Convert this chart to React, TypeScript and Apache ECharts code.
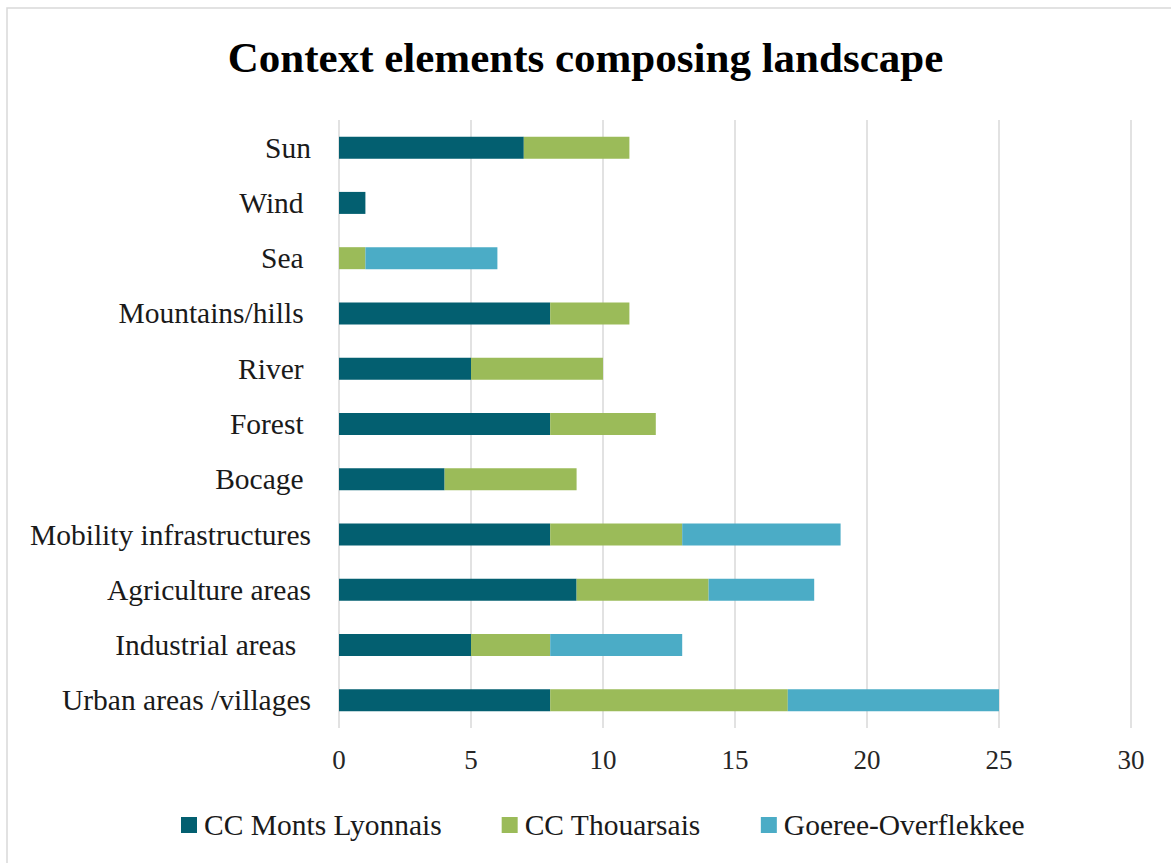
import React, { useEffect, useRef } from "react";
import * as echarts from "echarts";

const categories = [
  "Sun",
  "Wind ",
  "Sea ",
  "Mountains/hills ",
  "River ",
  "Forest ",
  "Bocage ",
  "Mobility infrastructures",
  "Agriculture areas",
  "Industrial areas  ",
  "Urban areas /villages",
];
const montsLyonnais = [7, 1, 0, 8, 5, 8, 4, 8, 9, 5, 8];
const thouarsais = [4, 0, 1, 3, 5, 4, 5, 5, 5, 3, 9];
const goeree = [0, 0, 5, 0, 0, 0, 0, 6, 4, 5, 8];
const seriesNames = ["CC Monts Lyonnais", "CC Thouarsais", "Goeree-Overflekkee"];
const colors = ["#035f70", "#9bbb59", "#4bacc6"];

const FONT = '"Liberation Serif", "DejaVu Serif", serif';

export default function App() {
  const ref = useRef<HTMLDivElement>(null);
  useEffect(() => {
    if (!ref.current) return;
    const chart = echarts.init(ref.current, undefined, { renderer: "svg" });
    const data = [montsLyonnais, thouarsais, goeree];
    chart.setOption({
      animation: false,
      backgroundColor: "#ffffff",
      textStyle: { fontFamily: FONT },
      graphic: [
        {
          type: "rect",
          shape: { x: 7, y: 8, width: 1300, height: 1000 },
          style: { fill: "none", stroke: "#d9d9d9", lineWidth: 1.5 },
          silent: true,
        },
      ],
      title: {
        text: "Context elements composing landscape",
        left: "center",
        top: 31,
        textStyle: {
          fontFamily: FONT,
          fontSize: 43,
          fontWeight: "bold",
          color: "#000000",
        },
      },
      legend: {
        data: seriesNames,
        top: 805,
        left: 176,
        icon: "rect",
        itemWidth: 16,
        itemHeight: 16,
        itemGap: 60,
        textStyle: { fontFamily: FONT, fontSize: 29.5, color: "#1a1a1a", padding: [0, 0, 0, 2] },
      },
      grid: { left: 339, right: 40, top: 120, bottom: 135, containLabel: false },
      xAxis: {
        type: "value",
        min: 0,
        max: 30,
        interval: 5,
        axisLine: { show: false },
        axisTick: { show: false },
        splitLine: { show: true, lineStyle: { color: "#d9d9d9", width: 1.5 } },
        axisLabel: {
          fontFamily: FONT,
          fontSize: 27,
          color: "#262626",
          margin: 18,
        },
      },
      yAxis: {
        type: "category",
        data: categories,
        inverse: true,
        axisLine: { show: false },
        axisTick: { show: false },
        axisLabel: {
          fontFamily: FONT,
          fontSize: 29.5,
          color: "#1a1a1a",
          margin: 28,
          formatter: (v: string) => v.replace(/ /g, "\u00a0"),
        },
      },
      series: seriesNames.map((name, i) => ({
        name,
        type: "bar",
        stack: "total",
        barWidth: 22,
        data: data[i],
        itemStyle: { color: colors[i] },
      })),
    });
    return () => chart.dispose();
  }, []);
  return <div ref={ref} style={{ width: 1171, height: 863, position: "absolute", left: 0, top: 0 }} />;
}
